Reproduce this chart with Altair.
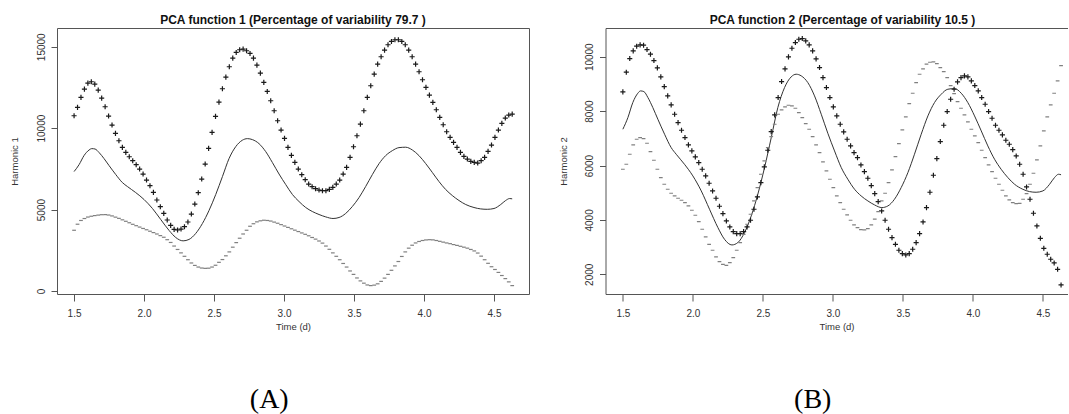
import altair as alt
import numpy as np
import pandas as pd

# evaluation grid of the PCA plot (fda plot.pca.fd uses nx = 128 points)
T = np.linspace(1.5, 4.63, 128)

# mean function (solid line)
MEAN_T = [1.500, 1.536, 1.571, 1.607, 1.626, 1.650, 1.679, 1.714, 1.750, 1.798,
          1.845, 1.881, 1.940, 2.000, 2.060, 2.119, 2.179, 2.226, 2.279, 2.321,
          2.369, 2.417, 2.464, 2.512, 2.560, 2.607, 2.655, 2.702, 2.738, 2.774,
          2.821, 2.869, 2.917, 2.964, 3.012, 3.060, 3.107, 3.155, 3.202, 3.250,
          3.298, 3.350, 3.393, 3.440, 3.488, 3.536, 3.583, 3.631, 3.679, 3.726,
          3.774, 3.821, 3.869, 3.917, 3.964, 4.012, 4.060, 4.107, 4.155, 4.202,
          4.250, 4.298, 4.357, 4.405, 4.452, 4.500, 4.548, 4.583, 4.612, 4.630]
MEAN_V = [7333, 7762, 8314, 8657, 8743, 8718, 8498, 8130, 7701, 7149,
          6659, 6414, 6046, 5617, 5065, 4391, 3716, 3287, 3079, 3165,
          3533, 4146, 4942, 5923, 7027, 8130, 8866, 9258, 9356, 9296,
          9050, 8560, 7885, 7186, 6536, 5923, 5494, 5126, 4881, 4697,
          4550, 4452, 4513, 4758, 5188, 5739, 6414, 7149, 7824, 8314,
          8620, 8804, 8829, 8657, 8314, 7824, 7272, 6720, 6230, 5862,
          5555, 5310, 5126, 5040, 5016, 5065, 5310, 5555, 5678, 5660]

# panel A: mean + harmonic 1 ("+") and mean - harmonic 1 ("-")
A_PLUS = [10762, 11273, 11887, 12399, 12767, 12849, 12706, 12337, 11846, 11314,
          10742, 10189, 9678, 9227, 8818, 8511, 8245, 8000, 7754, 7488,
          7181, 6813, 6465, 6056, 5586, 5176, 4767, 4358, 4031, 3785,
          3744, 3805, 3949, 4235, 4726, 5340, 6036, 6874, 7795, 8757,
          9739, 10721, 11601, 12419, 13135, 13770, 14301, 14649, 14813, 14854,
          14752, 14588, 14301, 13872, 13381, 12808, 12255, 11683, 11069, 10455,
          9882, 9371, 8818, 8327, 7898, 7488, 7140, 6834, 6568, 6404,
          6281, 6199, 6158, 6158, 6240, 6363, 6568, 6813, 7181, 7591,
          8204, 8859, 9534, 10250, 11069, 11887, 12603, 13320, 13934, 14384,
          14793, 15120, 15325, 15427, 15427, 15325, 15120, 14793, 14384, 13934,
          13463, 12972, 12501, 12030, 11580, 11130, 10660, 10210, 9780, 9432,
          9125, 8818, 8511, 8266, 8102, 7959, 7898, 7857, 8000, 8204,
          8573, 8961, 9432, 9882, 10291, 10619, 10803, 10864]
A_MINUS = [3729, 4100, 4330, 4450, 4540, 4590, 4630, 4660, 4685, 4690,
           4665, 4610, 4535, 4460, 4370, 4280, 4190, 4095, 4010, 3925,
           3840, 3760, 3670, 3586, 3500, 3400, 3300, 3150, 2980, 2760,
           2550, 2340, 2130, 1920, 1720, 1570, 1470, 1410, 1390, 1400,
           1470, 1580, 1760, 1930, 2160, 2400, 2690, 2970, 3240, 3500,
           3730, 3975, 4130, 4245, 4310, 4345, 4330, 4295, 4230, 4160,
           4075, 3990, 3905, 3820, 3735, 3650, 3565, 3480, 3390, 3285,
           3185, 3070, 2940, 2760, 2560, 2340, 2130, 1920, 1690, 1470,
           1230, 1020, 800, 620, 480, 370, 330, 360, 440, 590,
           790, 1020, 1270, 1540, 1810, 2120, 2400, 2630, 2810, 2950,
           3040, 3100, 3135, 3150, 3140, 3100, 3050, 3000, 2950, 2905,
           2850, 2800, 2745, 2690, 2630, 2550, 2460, 2330, 2140, 1920,
           1700, 1490, 1320, 1140, 950, 760, 560, 330]

# panel B: mean + harmonic 2 ("+") and mean - harmonic 2 ("-")
B_PLUS = [8706, 9430, 9932, 10214, 10386, 10435, 10423, 10263, 10092, 9859,
          9589, 9258, 8902, 8559, 8228, 7885, 7578, 7296, 7027, 6757,
          6536, 6316, 6107, 5862, 5617, 5347, 5065, 4795, 4501, 4231,
          3962, 3741, 3569, 3496, 3496, 3569, 3741, 3986, 4391, 4844,
          5372, 5948, 6561, 7247, 7860, 8498, 9087, 9552, 9994, 10312,
          10521, 10643, 10668, 10582, 10435, 10214, 9920, 9601, 9233, 8866,
          8498, 8155, 7824, 7517, 7235, 6965, 6720, 6475, 6291, 6021,
          5776, 5531, 5261, 4967, 4673, 4329, 3986, 3655, 3349, 3103,
          2883, 2760, 2711, 2760, 2920, 3165, 3496, 3925, 4452, 5016,
          5641, 6254, 6880, 7480, 7983, 8437, 8804, 9074, 9233, 9295,
          9258, 9111, 8939, 8743, 8498, 8253, 7983, 7738, 7480, 7296,
          7125, 6929, 6781, 6585, 6352, 6046, 5678, 5212, 4759, 4244,
          3778, 3324, 2956, 2736, 2552, 2417, 2184, 1608]
B_MINUS = [5862, 6046, 6414, 6757, 6965, 7027, 6990, 6818, 6512, 6193,
           5862, 5555, 5310, 5126, 4979, 4881, 4795, 4722, 4636, 4513,
           4354, 4170, 3937, 3655, 3373, 3103, 2883, 2638, 2466, 2368,
           2331, 2429, 2613, 2883, 3165, 3471, 3839, 4207, 4697, 5188,
           5678, 6168, 6659, 7064, 7517, 7885, 8044, 8155, 8216, 8192,
           8106, 7946, 7762, 7542, 7333, 7064, 6757, 6475, 6132, 5801,
           5494, 5188, 4881, 4636, 4391, 4182, 3986, 3814, 3716, 3643,
           3631, 3680, 3814, 4030, 4305, 4697, 4979, 5372, 5837, 6328,
           6806, 7309, 7787, 8277, 8657, 9050, 9356, 9552, 9724, 9797,
           9810, 9748, 9601, 9454, 9233, 8939, 8645, 8351, 8106, 7860,
           7603, 7333, 7088, 6843, 6561, 6291, 6021, 5776, 5531, 5310,
           5090, 4881, 4734, 4636, 4599, 4611, 4759, 4967, 5310, 5715,
           6205, 6720, 7272, 7787, 8228, 8657, 9111, 9675]

XTICKS = [1.5, 2.0, 2.5, 3.0, 3.5, 4.0, 4.5]
A_YTICKS = [0, 5000, 10000, 15000]
B_YTICKS = [2000, 4000, 6000, 8000, 10000]

TITLE_A = "PCA function 1 (Percentage of variability 79.7 )"
TITLE_B = "PCA function 2 (Percentage of variability 10.5 )"
XTITLE = "Time (d)"

PLUS_SHAPE = "M -1 0 L 1 0 M 0 -1 L 0 1"
MINUS_SHAPE = "M -1 0 L 1 0"
BOX = "#555555"


def panel(plus, minus, title, ytitle, yticks, ydom, xdom, width, title_dx,
          open_right=False):
    pts = pd.DataFrame({"t": T, "plus": plus, "minus": minus})
    mean = pd.DataFrame({"t": MEAN_T, "v": MEAN_V})
    xs = alt.Scale(domain=xdom, nice=False, zero=False)
    ys = alt.Scale(domain=ydom, nice=False, zero=False)
    xax = alt.Axis(values=XTICKS, format=".1f", tickSize=7, labelPadding=7,
                   titlePadding=3, domain=open_right, domainColor=BOX,
                   grid=False)
    yax = alt.Axis(values=yticks, format="d", tickSize=6, labelAngle=270,
                   labelAlign="center", labelBaseline="bottom", labelPadding=5,
                   titlePadding=16.5, domain=open_right, domainColor=BOX,
                   grid=False)
    line = alt.Chart(mean).mark_line(
        color="#333333", strokeWidth=1, interpolate="monotone", clip=True
    ).encode(
        x=alt.X("t:Q", scale=xs, axis=xax, title=XTITLE),
        y=alt.Y("v:Q", scale=ys, axis=yax, title=ytitle),
    )
    if open_right:
        top_axis = alt.Axis(orient="top", labels=False, ticks=False,
                            domain=True, domainColor=BOX, grid=False,
                            title=None)
        px = alt.X("t:Q", axis=top_axis)
    else:
        px = alt.X("t:Q", title=XTITLE)
    p = alt.Chart(pts).mark_point(
        shape=PLUS_SHAPE, filled=False, size=26, color="#1a1a1a",
        strokeWidth=1.2, opacity=1, clip=True
    ).encode(
        x=px,
        y=alt.Y("plus:Q", title=ytitle),
    )
    m = alt.Chart(pts).mark_point(
        shape=MINUS_SHAPE, filled=False, size=14, color="#808080",
        strokeWidth=1.2, opacity=1, clip=True
    ).encode(
        x=alt.X("t:Q", axis=None) if open_right else alt.X("t:Q", title=XTITLE),
        y=alt.Y("minus:Q", title=ytitle),
    )
    ch = alt.layer(line, p, m).properties(
        width=width, height=266,
        title=alt.Title(title, frame="group", anchor="middle", dx=title_dx),
    )
    if open_right:
        ch = ch.resolve_axis(x="independent").properties(
            view=alt.ViewBackground(stroke=None))
    return ch


panelA = panel(A_PLUS, A_MINUS, TITLE_A, "Harmonic 1", A_YTICKS,
               [-185, 16150], [1.378, 4.75], 472, 0)
panelB = panel(B_PLUS, B_MINUS, TITLE_B, "Harmonic 2", B_YTICKS,
               [1275, 11056], [1.376, 4.676], 462, 6, open_right=True)

capA = alt.vconcat(panelA, title=alt.Title(
    "(A)", orient="bottom", font="Liberation Serif", fontSize=28,
    fontWeight="normal", color="#000000", anchor="middle",
    offset=55))
capB = alt.vconcat(panelB, title=alt.Title(
    "(B)", orient="bottom", font="Liberation Serif", fontSize=28,
    fontWeight="normal", color="#000000", anchor="middle",
    offset=55))

chart = alt.hconcat(capA, capB, spacing=27.5).properties(
    padding={"left": 9, "top": 13, "right": 0, "bottom": 0},
    background="white",
).configure_view(
    stroke=BOX, strokeWidth=1
).configure_axis(
    labelFont="Liberation Sans", labelFontSize=10, labelColor="#333333",
    titleFont="Liberation Sans", titleFontSize=9.5, titleFontWeight="normal",
    titleColor="#333333", tickColor=BOX, tickWidth=1,
).configure_title(
    font="Liberation Sans", fontSize=12, fontWeight="bold", color="#111111",
    offset=1,
)

chart.save("out.html", embed_options={"renderer": "svg", "actions": False})
